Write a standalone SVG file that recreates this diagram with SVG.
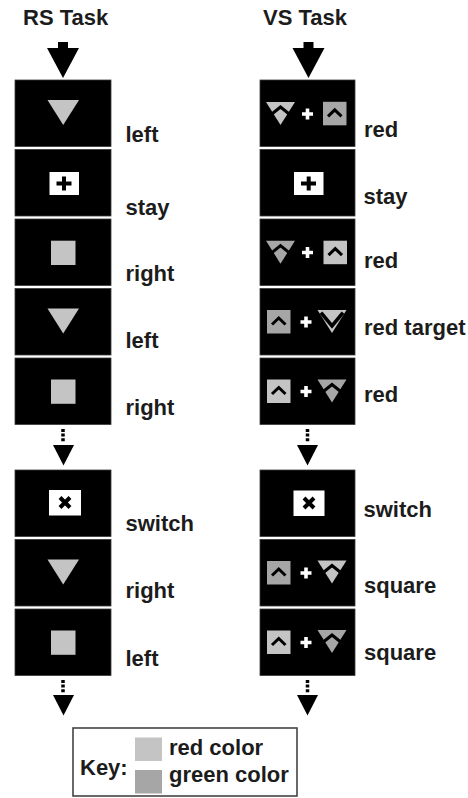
<svg xmlns="http://www.w3.org/2000/svg" xmlns:xlink="http://www.w3.org/1999/xlink" width="468" height="798" viewBox="0 0 468 798">
<style>
.t{font-family:"Liberation Sans",Arial,Helvetica,sans-serif;font-weight:bold;font-size:22px;fill:#1c1c1c}
.pn{fill:#000;stroke:#3a3a3a;stroke-width:0.8}
.lt{fill:#c4c4c4}
.dk{fill:#a6a6a6}
.fx{fill:#fff}
.ink{stroke:#000;stroke-width:4;fill:none}
.dots{stroke:#000;stroke-width:3.5;stroke-dasharray:3 1.6;fill:none}
</style>
<defs>
<g id="triUp"><polygon points="0,0 29,0 14.5,23"/><polyline points="1.5,15.5 14.5,5 27.5,15.5" fill="none" stroke="#000" stroke-width="3"/></g>
<g id="triV"><polygon points="0,0 29,0 14.5,23"/><polyline points="3.5,2.6 14.5,16 25.5,2.6" fill="none" stroke="#000" stroke-width="3.6"/></g>
<g id="sqUp"><rect width="23.5" height="23.5"/><polyline points="5,14.5 11.75,8 18.5,14.5" fill="none" stroke="#000" stroke-width="3"/></g>
<path id="plusW" d="M-5.5,0H5.5M0,-5.5V5.5" stroke="#fff" stroke-width="3.6" fill="none"/>
<polygon id="arr" points="-10.5,0 10.5,0 0,20.5" fill="#000"/>
</defs>

<g id="titles">
<text class="t" x="23" y="25">RS Task</text>
<text class="t" x="263" y="25">VS Task</text>
</g>

<g id="connectors">
<rect x="58" y="42" width="10" height="7" fill="#000"/>
<polygon points="47,48 79,48 63,78" fill="#000"/>
<rect x="303.5" y="42" width="10" height="7" fill="#000"/>
<polygon points="292.5,48 324.5,48 308.5,78" fill="#000"/>
<line class="dots" x1="63" y1="429" x2="63" y2="442"/>
<use href="#arr" x="63.5" y="445"/>
<line class="dots" x1="307.5" y1="429" x2="307.5" y2="442"/>
<use href="#arr" x="307.5" y="445"/>
<line class="dots" x1="63" y1="680" x2="63" y2="693"/>
<use href="#arr" x="63.5" y="695"/>
<line class="dots" x1="307.5" y1="680" x2="307.5" y2="693"/>
<use href="#arr" x="307.5" y="695"/>
</g>

<!-- RS column -->
<g id="rs1"><rect class="pn" x="15" y="80" width="96" height="66.5"/><polygon class="lt" points="47.5,100 79,100 63.2,125"/><text class="t" x="125.5" y="142">left</text></g>
<g id="rs2"><rect class="pn" x="15" y="149.5" width="96" height="66.5"/><rect class="fx" x="49.5" y="172" width="29.5" height="23"/><path class="ink" d="M56.5,183.5H71.5M64,176.5V190.5"/><text class="t" x="125.5" y="214.5">stay</text></g>
<g id="rs3"><rect class="pn" x="15" y="219" width="96" height="66.5"/><rect class="lt" x="51" y="240.7" width="24.5" height="24.3"/><text class="t" x="125.5" y="281">right</text></g>
<g id="rs4"><rect class="pn" x="15" y="288.5" width="96" height="66.5"/><polygon class="lt" points="47.5,308.5 79,308.5 63.2,333.5"/><text class="t" x="125.5" y="348">left</text></g>
<g id="rs5"><rect class="pn" x="15" y="358" width="96" height="66.5"/><rect class="lt" x="51" y="379.5" width="24.5" height="24.3"/><text class="t" x="125.5" y="415">right</text></g>
<g id="rs6"><rect class="pn" x="15" y="470" width="96" height="66.5"/><rect class="fx" x="49" y="490" width="32" height="25.5"/><path class="ink" d="M60,497.5L70,507.5M70,497.5L60,507.5"/><text class="t" x="125.5" y="531">switch</text></g>
<g id="rs7"><rect class="pn" x="15" y="539.5" width="96" height="66.5"/><polygon class="lt" points="47.5,559.5 79,559.5 63.2,584.5"/><text class="t" x="125.5" y="598.3">right</text></g>
<g id="rs8"><rect class="pn" x="15" y="609" width="96" height="66.5"/><rect class="lt" x="51" y="630.5" width="24.5" height="24.3"/><text class="t" x="125.5" y="666">left</text></g>

<!-- VS column -->
<g id="vs1"><rect class="pn" x="260" y="80" width="95" height="66.5"/><use href="#triUp" x="266" y="102" class="lt"/><use href="#plusW" x="307.5" y="114"/><use href="#sqUp" x="323" y="101.8" class="dk"/><text class="t" x="364" y="137.3">red</text></g>
<g id="vs2"><rect class="pn" x="260" y="149.5" width="95" height="66.5"/><rect class="fx" x="294" y="172" width="29.5" height="23"/><path class="ink" d="M301,183.5H316M308.7,176.5V190.5"/><text class="t" x="363.5" y="204">stay</text></g>
<g id="vs3"><rect class="pn" x="260" y="219" width="95" height="66.5"/><use href="#triUp" x="266" y="240.7" class="dk"/><use href="#plusW" x="307.5" y="252.5"/><use href="#sqUp" x="323.5" y="240.7" class="lt"/><text class="t" x="364" y="268.3">red</text></g>
<g id="vs4"><rect class="pn" x="260" y="288.5" width="95" height="66.5"/><use href="#sqUp" x="267" y="310" class="dk"/><use href="#plusW" x="306" y="322"/><use href="#triV" x="317.5" y="310" class="lt"/><text class="t" x="364" y="335">red target</text></g>
<g id="vs5"><rect class="pn" x="260" y="358" width="95" height="66.5"/><use href="#sqUp" x="267" y="379.5" class="lt"/><use href="#plusW" x="306" y="391.5"/><use href="#triUp" x="317.5" y="379.5" class="dk"/><text class="t" x="364" y="401.7">red</text></g>
<g id="vs6"><rect class="pn" x="260" y="470" width="95" height="66.5"/><rect class="fx" x="293.5" y="490.5" width="31" height="25.5"/><path class="ink" d="M304,498L314,508M314,498L304,508"/><text class="t" x="363.5" y="516.7">switch</text></g>
<g id="vs7"><rect class="pn" x="260" y="539.5" width="95" height="66.5"/><use href="#sqUp" x="267" y="561" class="dk"/><use href="#plusW" x="306" y="573"/><use href="#triUp" x="317.5" y="560.5" class="lt"/><text class="t" x="364" y="593.3">square</text></g>
<g id="vs8"><rect class="pn" x="260" y="609" width="95" height="66.5"/><use href="#sqUp" x="267" y="630.5" class="lt"/><use href="#plusW" x="306" y="642.5"/><use href="#triUp" x="317.5" y="630" class="dk"/><text class="t" x="364" y="660">square</text></g>

<!-- Key -->
<g id="key">
<rect x="73" y="728" width="224" height="68" fill="#fff" stroke="#444" stroke-width="1.6"/>
<text class="t" x="80" y="775">Key:</text>
<rect class="lt" x="135" y="737.5" width="27" height="23.5"/>
<rect class="dk" x="135" y="770" width="27" height="23.5"/>
<text class="t" x="169" y="755">red color</text>
<text class="t" x="169" y="781.5">green color</text>
</g>
</svg>
